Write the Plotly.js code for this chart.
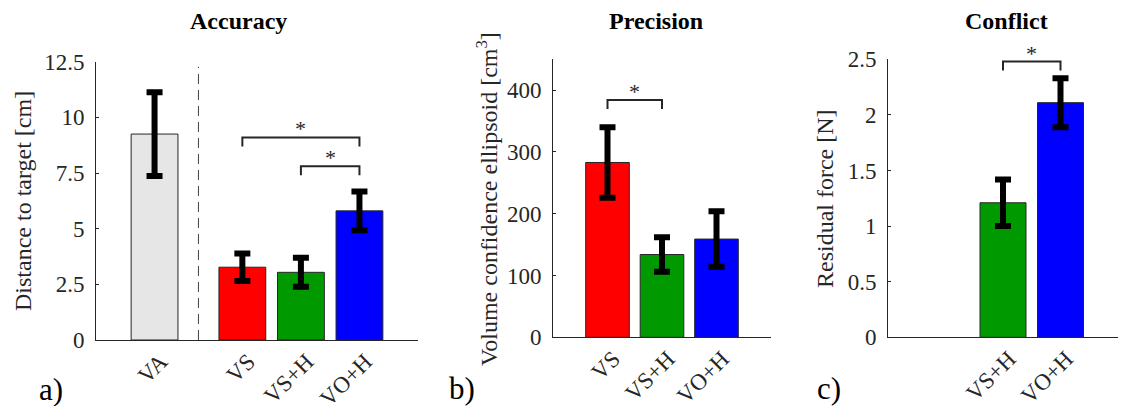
<!DOCTYPE html>
<html>
<head>
<meta charset="utf-8">
<script src="https://cdn.plot.ly/plotly-3.0.1.min.js"></script>
<style>html,body{margin:0;padding:0;background:#fff;}#chart{width:1123px;height:406px;}</style>
</head>
<body>
<div id="chart"></div>
<script>
// ---- data ----
const accCats = ['VA', 'VS', 'VS+H', 'VO+H'];
const accMean = [9.25, 3.27, 3.04, 5.80];
const accErr  = [1.88, 0.62, 0.65, 0.87];

const precCats = ['VS', 'VS+H', 'VO+H'];
const precMean = [283, 134, 159];
const precErr  = [57, 28, 45];

const confCats = ['VS+H', 'VO+H'];
const confMean = [1.21, 2.11];
const confErr  = [0.21, 0.22];

// significance brackets: [from, to, height]
const accSig  = [['VS', 'VO+H', 9.1], ['VS+H', 'VO+H', 7.8]];
const precSig = [['VS', 'VS+H', 384]];
const confSig = [['VS+H', 'VO+H', 2.48]];

// ---- styling / layout ----
const W = 1123, H = 406;
const FONT = '"Liberation Serif"';
const AX = '#262626';
const colorOf = {'VA': '#e6e6e6', 'VS': '#ff0000', 'VS+H': '#009900', 'VO+H': '#0000ff'};

// slot positions on numeric axes (layout)
const accX  = accCats.map((c, i) => i === 0 ? 1 : i + 1.5);
const precX = precCats.map((c, i) => i + 1);
const confX = confCats.map((c, i) => i + 2);

function px2x(p) { return p / W; }
function px2y(p) { return 1 - p / H; }

const panels = [
  {xa: 'x', ya: 'y', cats: accCats, xs: accX, mean: accMean, err: accErr, sig: accSig,
   xr: [0, 5.5], yr: [0, 12.5], dt: 2.5, xd: [96, 418], yd: [61.7, 340]},
  {xa: 'x2', ya: 'y2', cats: precCats, xs: precX, mean: precMean, err: precErr, sig: precSig,
   xr: [0, 4], yr: [0, 450], dt: 100, xd: [553, 771], yd: [59.3, 337.3]},
  {xa: 'x3', ya: 'y3', cats: confCats, xs: confX, mean: confMean, err: confErr, sig: confSig,
   xr: [0, 4], yr: [0, 2.5], dt: 0.5, xd: [888, 1118], yd: [59.3, 337.3]}
];

const traces = [];
const annotations = [];
const layout = {
  width: W, height: H,
  margin: {l: 0, r: 0, t: 0, b: 0},
  paper_bgcolor: '#fff', plot_bgcolor: 'rgba(0,0,0,0)',
  showlegend: false,
  font: {family: FONT, size: 23, color: AX},
  annotations: annotations
};

panels.forEach((p, k) => {
  const n = k === 0 ? '' : String(k + 1);
  traces.push({
    type: 'bar', x: p.xs, y: p.mean, xaxis: p.xa, yaxis: p.ya, width: 0.8,
    marker: {color: p.cats.map(c => colorOf[c]), line: {color: AX, width: 1}},
    error_y: {type: 'data', array: p.err, visible: true, color: '#000', thickness: 6, width: 8},
    hoverinfo: 'skip'
  });
  const hPx = p.yd[1] - p.yd[0];
  const drop = 9 * (p.yr[1] - p.yr[0]) / hPx;
  p.sig.forEach(s => {
    const x0 = p.xs[p.cats.indexOf(s[0])];
    const x1 = p.xs[p.cats.indexOf(s[1])];
    traces.push({
      type: 'scatter', mode: 'lines', xaxis: p.xa, yaxis: p.ya,
      x: [x0, x0, x1, x1], y: [s[2] - drop, s[2], s[2], s[2] - drop],
      line: {color: AX, width: 2}, hoverinfo: 'skip', cliponaxis: false
    });
    annotations.push({
      xref: p.xa, yref: p.ya, x: (x0 + x1) / 2, y: s[2], text: '*', showarrow: false,
      yanchor: 'bottom', yshift: -6, font: {family: FONT, size: 22, color: AX}
    });
  });
  layout['xaxis' + n] = {
    domain: [px2x(p.xd[0]), px2x(p.xd[1])], range: p.xr, anchor: 'y' + n,
    showline: true, linecolor: AX, linewidth: 1, showgrid: false, zeroline: false,
    ticks: '', tickmode: 'array', tickvals: p.xs, ticktext: p.cats, tickangle: -45,
    ticklabelshift: 6, ticklabelstandoff: -2,
    tickfont: {family: FONT, size: 23, color: AX}, fixedrange: true
  };
  layout['yaxis' + n] = {
    domain: [px2y(p.yd[1]), px2y(p.yd[0])], range: p.yr, anchor: 'x' + n,
    showline: true, linecolor: AX, linewidth: 1, showgrid: false, zeroline: false,
    ticks: 'inside', ticklen: 3, tickcolor: AX, dtick: p.dt, tick0: 0,
    ticklabelstandoff: 6,
    tickfont: {family: FONT, size: 23, color: AX}, fixedrange: true
  };
});

// dashed separator in panel a (between VA and the VS group)
traces.push({
  type: 'scatter', mode: 'lines', xaxis: 'x', yaxis: 'y',
  x: [(accX[0] + accX[1]) / 2, (accX[0] + accX[1]) / 2], y: [0, 12.27],
  line: {color: '#404040', width: 1, dash: '10px,6px'}, hoverinfo: 'skip'
});

// panel titles
[['Accuracy', 238], ['Precision', 656], ['Conflict', 1006]].forEach(t => {
  annotations.push({xref: 'paper', yref: 'paper', x: px2x(t[1]), y: px2y(21), text: '<b>' + t[0] + '</b>',
    showarrow: false, xanchor: 'center', yanchor: 'middle', font: {family: FONT, size: 24, color: '#000'}});
});
// axis titles
[['Distance to target [cm]', 23, 201], ['Volume confidence ellipsoid [cm<sup>3</sup>]', 487, 199], ['Residual force [N]', 825, 199]].forEach(t => {
  annotations.push({xref: 'paper', yref: 'paper', x: px2x(t[1]), y: px2y(t[2]), text: t[0], textangle: -90,
    showarrow: false, xanchor: 'center', yanchor: 'middle', font: {family: FONT, size: 24, color: AX}});
});
// panel letters
[['a)', 51, 389], ['b)', 462, 388], ['c)', 829, 388]].forEach(t => {
  annotations.push({xref: 'paper', yref: 'paper', x: px2x(t[1]), y: px2y(t[2]), text: t[0],
    showarrow: false, xanchor: 'center', yanchor: 'middle', font: {family: FONT, size: 31, color: '#000'}});
});

Plotly.newPlot('chart', traces, layout, {displayModeBar: false, staticPlot: true});
</script>
</body>
</html>
